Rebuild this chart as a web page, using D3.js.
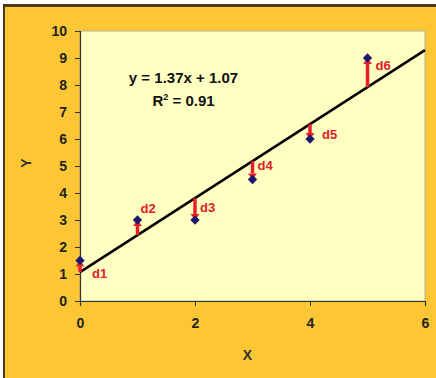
<!DOCTYPE html>
<html>
<head>
<meta charset="utf-8">
<script src="https://cdn.jsdelivr.net/npm/d3@7"></script>
<style>
  html, body { margin: 0; padding: 0; background: #fff; }
  svg { display: block; font-family: "Liberation Sans", Arial, sans-serif; }
</style>
</head>
<body>
<div id="chart"></div>
<script>
// data
const xs = [0, 1, 2, 3, 4, 5];
const ys = [1.5, 3, 3, 4.5, 6, 9];
const labels = ['d1', 'd2', 'd3', 'd4', 'd5', 'd6'];
const slope = 1.37;
const intercept = 1.07;
const rSquared = 0.91;
const xTicks = [0, 2, 4, 6];
const yTicks = [0, 1, 2, 3, 4, 5, 6, 7, 8, 9, 10];

const W = 436, H = 378;
const margin = { top: 31, right: 11, bottom: 77, left: 80 };
const width = W - margin.left - margin.right;
const height = H - margin.top - margin.bottom;

const svg = d3.select('#chart').append('svg')
    .attr('width', W)
    .attr('height', H);

// outer frame
svg.append('rect').attr('x', 3).attr('y', 4).attr('width', W - 3).attr('height', H - 4)
    .attr('fill', '#4a3a1a');
svg.append('rect').attr('x', 5).attr('y', 7).attr('width', W - 5).attr('height', H - 7)
    .attr('fill', '#fcc634');

const g = svg.append('g')
    .attr('transform', `translate(${margin.left}, ${margin.top})`);

const x = d3.scaleLinear().domain([0, 6]).range([0, width]);
const y = d3.scaleLinear().domain([0, 10]).range([height, 0]);

// plot area
g.append('rect')
    .attr('width', width).attr('height', height)
    .attr('fill', '#ffffc2')
    .attr('stroke', '#b8b090').attr('stroke-width', 1);

// axes
const xAxis = d3.axisBottom(x).tickValues(xTicks).tickFormat(d3.format('d')).tickSize(5).tickPadding(12);
const yAxis = d3.axisLeft(y).tickValues(yTicks).tickFormat(d3.format('d')).tickSize(5).tickPadding(8);

const xg = g.append('g').attr('transform', `translate(0, ${height})`).call(xAxis);
const yg = g.append('g').call(yAxis);
[xg, yg].forEach(a => {
    a.select('.domain').attr('stroke', '#333').attr('stroke-width', 1.2);
    a.selectAll('.tick line').attr('stroke', '#333');
    a.selectAll('.tick text')
        .attr('fill', '#222')
        .style('font-size', '14px')
        .style('font-weight', 'bold');
});

// axis titles
svg.append('text')
    .attr('x', margin.left + width / 2 - 5).attr('y', 360)
    .attr('text-anchor', 'middle')
    .style('font-size', '14px').style('font-weight', 'bold').attr('fill', '#333')
    .text('X');
svg.append('text')
    .attr('transform', `translate(31, ${margin.top + height / 2 - 3}) rotate(-90)`)
    .attr('text-anchor', 'middle')
    .style('font-size', '14px').style('font-weight', 'bold').attr('fill', '#333')
    .text('Y');

// regression line
const fit = v => slope * v + intercept;
g.append('line')
    .attr('x1', x(0)).attr('y1', y(fit(0)))
    .attr('x2', x(6)).attr('y2', y(fit(6)))
    .attr('stroke', '#000').attr('stroke-width', 2.5);

// residual arrows
const pts = xs.map((v, i) => ({ x: v, y: ys[i], label: labels[i] }));
const arrows = g.append('g');
pts.forEach(d => {
    const y0 = y(fit(d.x));
    const y1 = y(d.y);
    const dir = y1 < y0 ? -1 : 1;
    const head = 6;
    arrows.append('line')
        .attr('x1', x(d.x)).attr('y1', y0)
        .attr('x2', x(d.x)).attr('y2', y1 - dir * head)
        .attr('stroke', '#e8202a').attr('stroke-width', 3.5);
    arrows.append('path')
        .attr('d', `M${x(d.x) - 4.5},${y1 - dir * head} L${x(d.x) + 4.5},${y1 - dir * head} L${x(d.x)},${y1} Z`)
        .attr('fill', '#e8202a');
});

// points
g.append('g').selectAll('path')
    .data(pts)
    .join('path')
    .attr('transform', d => `translate(${x(d.x)}, ${y(d.y)}) rotate(45)`)
    .attr('d', d3.symbol().type(d3.symbolSquare).size(44))
    .attr('fill', '#1c1a6e');

// residual labels
const labelOffsets = [[12, 17], [3, -7], [5, -8], [5, -10], [12, 0], [8, 12]];
g.append('g').selectAll('text')
    .data(pts)
    .join('text')
    .attr('x', (d, i) => x(d.x) + labelOffsets[i][0])
    .attr('y', (d, i) => y(d.y) + labelOffsets[i][1])
    .attr('fill', '#e0202a')
    .style('font-size', '13px').style('font-weight', 'bold')
    .text(d => d.label);

// equation
const eq = g.append('text')
    .attr('x', x(1.8)).attr('y', y(8.07))
    .attr('text-anchor', 'middle')
    .style('font-size', '15px').style('font-weight', 'bold').attr('fill', '#111');
eq.text(`y = ${slope}x + ${intercept}`);
const r2 = g.append('text')
    .attr('x', x(1.8)).attr('y', y(7.22))
    .attr('text-anchor', 'middle')
    .style('font-size', '15px').style('font-weight', 'bold').attr('fill', '#111');
r2.append('tspan').text('R');
r2.append('tspan').attr('dy', -6).style('font-size', '9px').text('2');
r2.append('tspan').attr('dy', 6).text(` = ${rSquared}`);
</script>
</body>
</html>
